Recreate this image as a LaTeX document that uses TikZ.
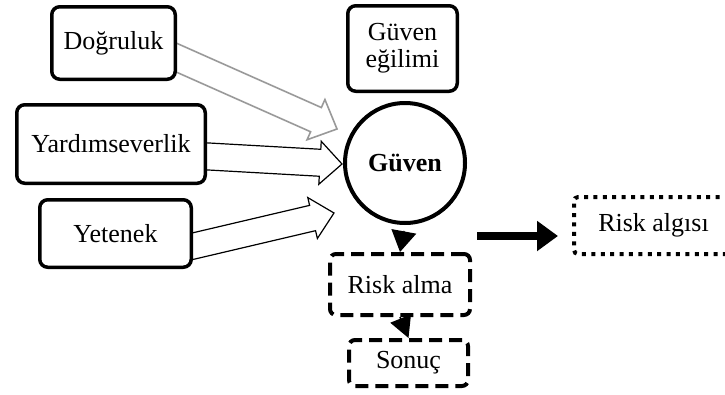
\documentclass[tikz,border=0pt]{standalone}
\usepackage{fontspec}
\setmainfont{Liberation Serif}
\usetikzlibrary{calc,arrows.meta}

% hollow block arrow from #2 to the tip #3:
% #4 = half shaft width, #5 = half head width, #6 = head length
\newcommand\blockarrow[6][]{%
  \coordinate (ba-neck) at ($(#3)!#6!(#2)$);
  \draw[#1] ($(#2)!#4!90:(#3)$) -- ($(ba-neck)!#4!90:(#3)$)
    -- ($(ba-neck)!#5!90:(#3)$) -- (#3)
    -- ($(ba-neck)!#5!-90:(#3)$) -- ($(ba-neck)!#4!-90:(#3)$)
    -- ($(#2)!#4!-90:(#3)$) -- cycle;
}

\tikzset{
  txt/.style={font=\fontsize{26}{27}\selectfont, inner sep=0pt, align=center},
  solidbox/.style={txt, draw, fill=white, line width=3.5pt, rounded corners=8pt},
  dashbox/.style={txt, draw, fill=white, line width=4pt, rounded corners=6pt,
    dash pattern=on 13pt off 7pt},
  dotbox/.style={txt, draw, fill=white, line width=4pt, rounded corners=4pt,
    dash pattern=on 4pt off 5.4pt},
  hollow/.style={draw=black, fill=white, line width=1.2pt, line join=miter},
  hollowgray/.style={draw=gray!80, fill=white, line width=1.6pt, line join=miter},
}

\begin{document}
\begin{tikzpicture}[x=1pt, y=-1pt]
  \useasboundingbox (0,0) rectangle (725,394);
  \clip (0,0) rectangle (725,394);

  % free ends of the block arrows
  \coordinate (dogStart) at (157,49);
  \coordinate (dogTip)   at (337,129);
  \coordinate (yarStart) at (200,156);
  \coordinate (yarTip)   at (342,164);
  \coordinate (yetStart) at (185,248);
  \coordinate (yetTip)   at (334,213);

  % block arrows (tails hidden under the boxes)
  \blockarrow[hollowgray]{dogStart}{dogTip}{13.25pt}{22pt}{23pt}
  \blockarrow[hollow]{yarStart}{yarTip}{13.5pt}{21.5pt}{22pt}
  \blockarrow[hollow]{yetStart}{yetTip}{13pt}{21pt}{22pt}

  % antecedents
  \node[solidbox, minimum width=123.5pt, minimum height=72.5pt] (dog) at (113.5,43) {Doğruluk};
  \node[solidbox, minimum width=188.5pt, minimum height=78.5pt] (yar) at (111,144) {Yardımseverlik};
  \node[solidbox, minimum width=151.5pt, minimum height=67.5pt] (yet) at (115.5,233.5) {Yetenek};

  % trust propensity and trust
  \node[solidbox, minimum width=109.5pt, minimum height=85.5pt] (egilim) at (402.5,48.5) {Güven\\eğilimi};
  \node[txt, draw, circle, line width=4pt, minimum size=120pt, font=\fontsize{26}{27}\selectfont\bfseries] (guven) at (405,163) {Güven};

  % outcomes
  \node[dashbox, minimum width=140pt, minimum height=61pt] (risk) at (400,284.5) {Risk alma};
  \node[dashbox, minimum width=119pt, minimum height=46pt] (sonuc) at (408.5,363) {Sonuç};
  \node[dotbox, minimum width=159pt, minimum height=57pt] (algi) at (653.5,225.5) {Risk algısı};

  % solid connectors
  \draw[line width=1.5pt, shorten <=6pt, -{Triangle[length=21pt, width=25pt]}] (guven.south) -- (risk.north);
  \draw[line width=1.5pt, -{Triangle[length=21pt, width=22pt]}] (risk.south) -- (sonuc.north);

  \coordinate (perStart) at (477,236);
  \coordinate (perTip)   at (558,236);
  \draw[line width=8pt, -{Triangle[length=21pt, width=29pt]}] (perStart) -- (perTip);
\end{tikzpicture}
\end{document}
